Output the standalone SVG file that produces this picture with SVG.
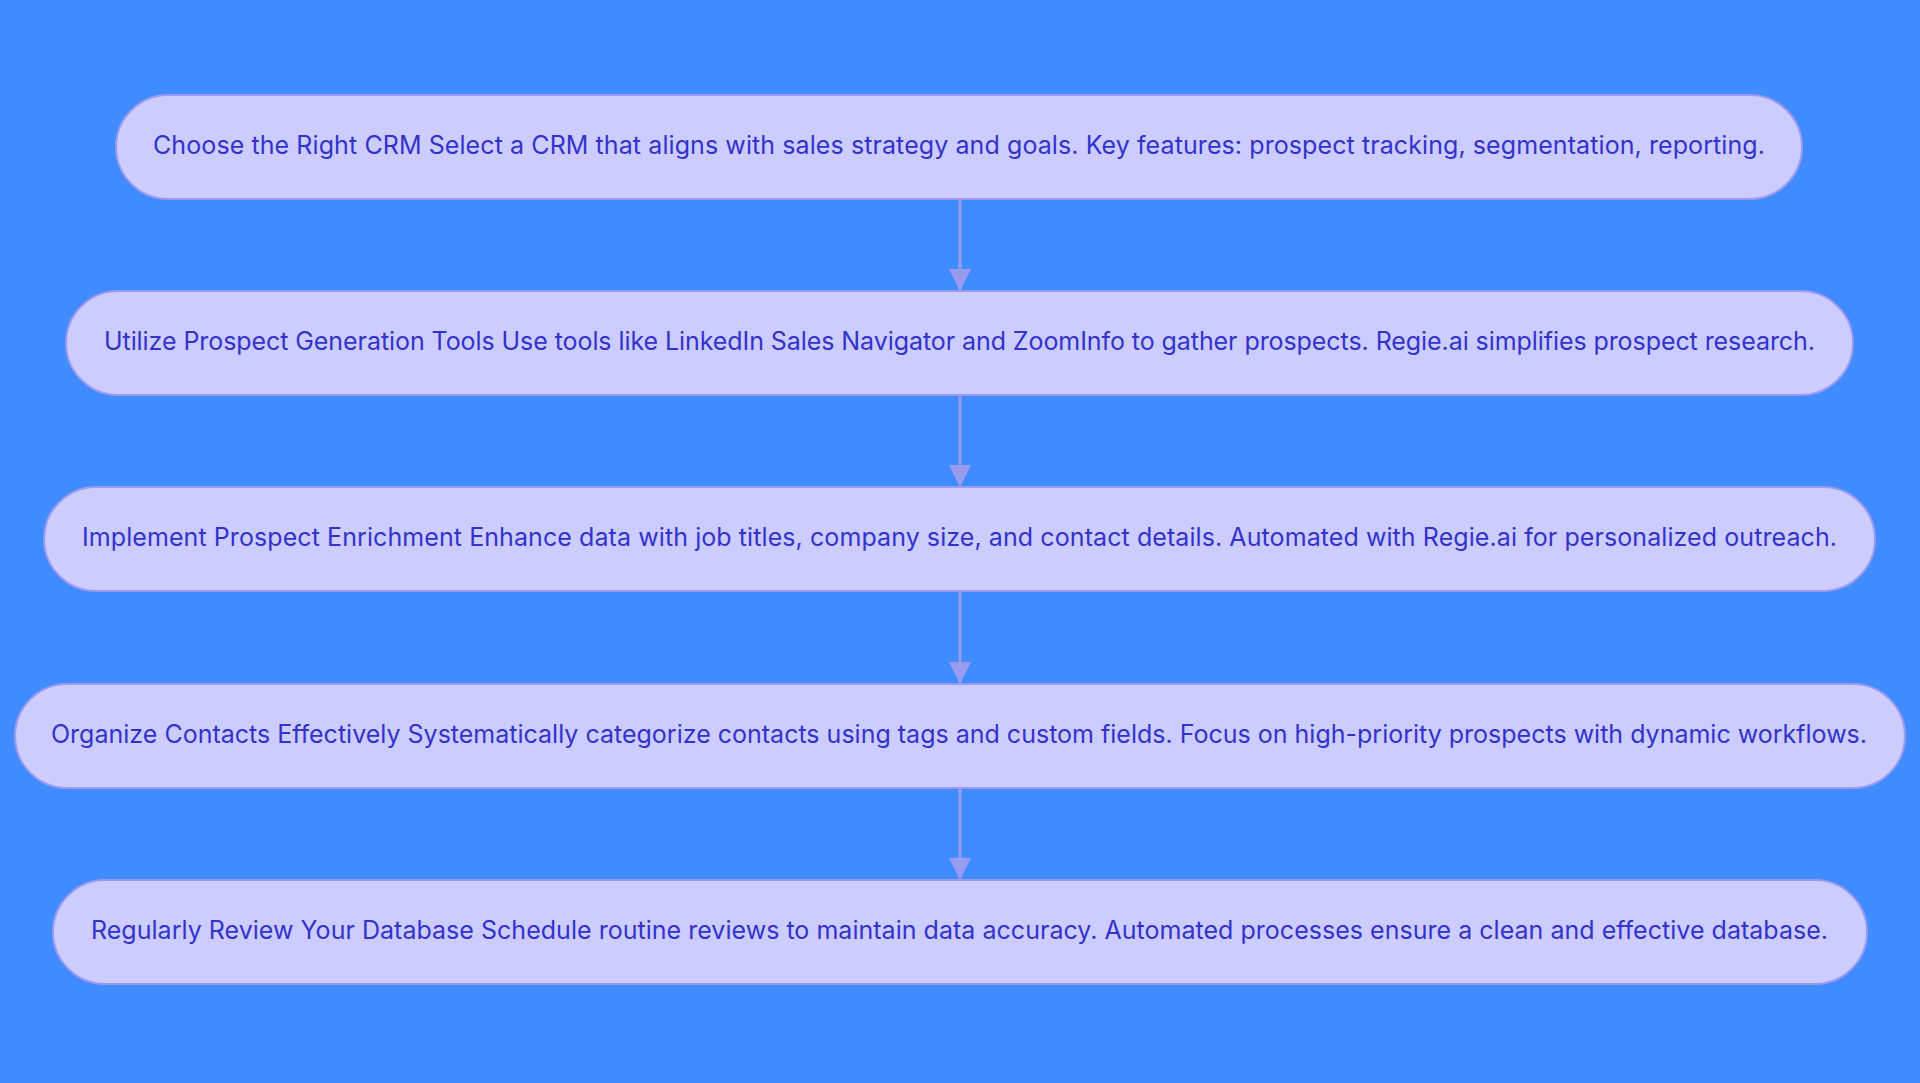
<svg xmlns="http://www.w3.org/2000/svg" width="1920" height="1083" viewBox="0 0 1920 1083">
<defs>
<style>
.node rect{fill:#ccccff;stroke:#9a9aee;stroke-width:2}
.node text{font-family:Inter,"Noto Sans",sans-serif;font-size:25px;fill:#3333cc;text-anchor:middle}
.edge{stroke:#9a9aee;stroke-width:3;fill:none}
</style>
<marker id="arrow" markerWidth="22" markerHeight="22" viewBox="0 0 22 22" refX="22" refY="11" orient="auto" markerUnits="userSpaceOnUse">
<path d="M0,0 L22,11 L0,22 Z" fill="#9a9aee"/>
</marker>
</defs>
<rect width="1920" height="1083" fill="#408cff"/>
<g id="connectors">
<path class="edge" d="M960,199 L960,291" marker-end="url(#arrow)"/>
<path class="edge" d="M960,395 L960,487" marker-end="url(#arrow)"/>
<path class="edge" d="M960,591 L960,684" marker-end="url(#arrow)"/>
<path class="edge" d="M960,788 L960,880" marker-end="url(#arrow)"/>
</g>
<g id="node1" class="node">
<rect x="116" y="95" width="1686" height="104" rx="52" ry="52"/>
<text x="959" y="154" textLength="1612">Choose the Right CRM Select a CRM that aligns with sales strategy and goals. Key features: prospect tracking, segmentation, reporting.</text>
</g>
<g id="node2" class="node">
<rect x="66" y="291" width="1787" height="104" rx="52" ry="52"/>
<text x="959.5" y="350" textLength="1711">Utilize Prospect Generation Tools Use tools like LinkedIn Sales Navigator and ZoomInfo to gather prospects. Regie.ai simplifies prospect research.</text>
</g>
<g id="node3" class="node">
<rect x="44" y="487" width="1831" height="104" rx="52" ry="52"/>
<text x="959.5" y="546" textLength="1755">Implement Prospect Enrichment Enhance data with job titles, company size, and contact details. Automated with Regie.ai for personalized outreach.</text>
</g>
<g id="node4" class="node">
<rect x="15" y="684" width="1890" height="104" rx="52" ry="52"/>
<text x="959" y="743" textLength="1816">Organize Contacts Effectively Systematically categorize contacts using tags and custom fields. Focus on high-priority prospects with dynamic workflows.</text>
</g>
<g id="node5" class="node">
<rect x="53" y="880" width="1814" height="104" rx="52" ry="52"/>
<text x="959.5" y="939" textLength="1737">Regularly Review Your Database Schedule routine reviews to maintain data accuracy. Automated processes ensure a clean and effective database.</text>
</g>
</svg>
